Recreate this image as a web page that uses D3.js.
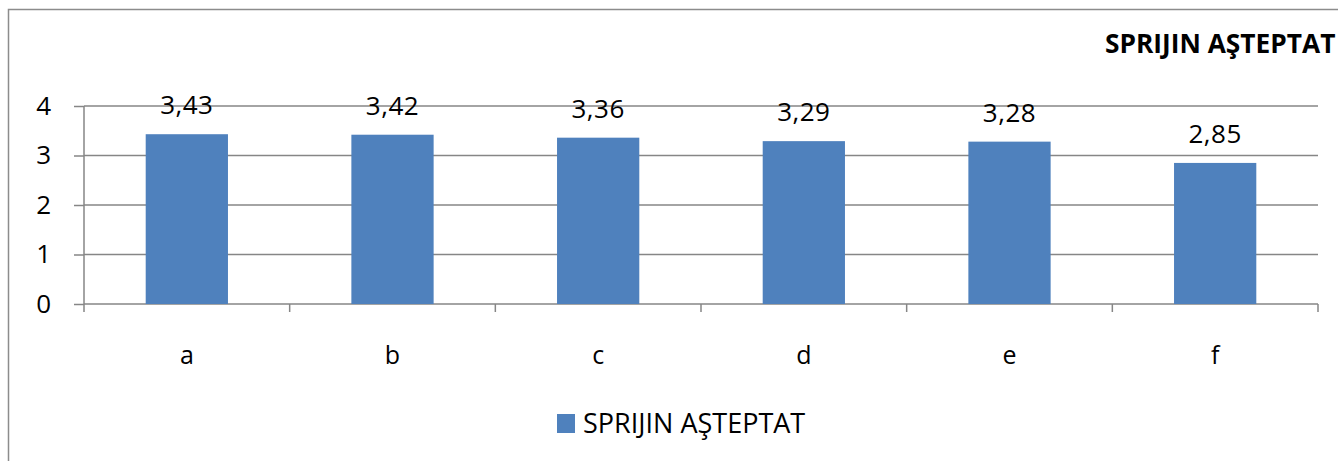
<!DOCTYPE html>
<html>
<head>
<meta charset="utf-8">
<script src="https://cdn.jsdelivr.net/npm/d3@7"></script>
<style>
  html, body { margin: 0; padding: 0; background: #fff; overflow: hidden; }
  svg { display: block; font-family: "Open Sans", sans-serif; }
</style>
</head>
<body>
<svg id="chart" width="1338" height="461"></svg>
<script>
const categories = ["a", "b", "c", "d", "e", "f"];
const values = [3.43, 3.42, 3.36, 3.29, 3.28, 2.85];
const yTicks = [0, 1, 2, 3, 4];
const seriesName = "SPRIJIN AŞTEPTAT";

(function () {
const svg = d3.select("#chart");
const pLeft = 84, pRight = 1318, pTop = 106, pBottom = 304;

// outer border
svg.append("rect")
  .attr("x", 8.5).attr("y", 9.5)
  .attr("width", 1400).attr("height", 500)
  .attr("fill", "none").attr("stroke", "#8c8c8c").attr("stroke-width", 1.5);

const x = d3.scaleBand().domain(categories).range([pLeft, pRight]).paddingInner(0.6).paddingOuter(0.3);
const xb = d3.scaleBand().domain(categories).range([pLeft, pRight]);
const y = d3.scaleLinear().domain([0, 4]).range([pBottom, pTop]);

// gridlines
svg.append("g").selectAll("line").data(yTicks).join("line")
  .attr("x1", pLeft).attr("x2", pRight)
  .attr("y1", d => y(d)).attr("y2", d => y(d))
  .attr("stroke", "#868686").attr("stroke-width", 1.5);

// y axis
const yAxis = d3.axisLeft(y).tickValues(yTicks).tickSize(10).tickPadding(23).tickFormat(d3.format("d"));
const gy = svg.append("g").attr("transform", `translate(${pLeft},0)`).call(yAxis);
gy.select(".domain").attr("stroke", "#868686").attr("stroke-width", 1.5).attr("d", `M0,${pTop}V${pBottom}`);
gy.selectAll(".tick line").attr("stroke", "#868686").attr("stroke-width", 1.5);
gy.selectAll(".tick text").attr("font-size", 26).attr("fill", "#000").attr("font-family", "Open Sans");

// bars
svg.append("g").selectAll("rect").data(values).join("rect")
  .attr("x", (d, i) => x(categories[i]))
  .attr("width", x.bandwidth())
  .attr("y", d => y(d))
  .attr("height", d => y(0) - y(d))
  .attr("fill", "#4f81bd");

// x axis
const xAxis = d3.axisBottom(xb).tickSize(0).tickPadding(42);
const gx = svg.append("g").attr("transform", `translate(0,${pBottom})`).call(xAxis);
gx.select(".domain").remove();
gx.selectAll(".tick text").attr("font-size", 25).attr("fill", "#000").attr("font-family", "Open Sans");
// category boundary ticks
const bounds = categories.map(c => xb(c)).concat([pRight]);
svg.append("g").selectAll("line").data(bounds).join("line")
  .attr("x1", d => d).attr("x2", d => d)
  .attr("y1", pBottom).attr("y2", pBottom + 8)
  .attr("stroke", "#868686").attr("stroke-width", 1.5);

// value labels
svg.append("g").selectAll("text").data(values).join("text")
  .attr("x", (d, i) => x(categories[i]) + x.bandwidth() / 2)
  .attr("y", d => y(d) - 20)
  .attr("text-anchor", "middle")
  .attr("font-size", 26)
  .attr("letter-spacing", 0.5)
  .attr("fill", "#000")
  .text(d => d3.format(".2f")(d).replace(".", ","));

// title
svg.append("text")
  .attr("x", 1105).attr("y", 53)
  .attr("font-size", 26.3).attr("font-weight", "bold").attr("fill", "#000")
  .text(seriesName);

// legend
const lg = svg.append("g");
lg.append("rect").attr("x", 557).attr("y", 414).attr("width", 18).attr("height", 19).attr("fill", "#4f81bd");
lg.append("text").attr("x", 583).attr("y", 433).attr("font-size", 27).attr("fill", "#000").text(seriesName);
})();
</script>
</body>
</html>
